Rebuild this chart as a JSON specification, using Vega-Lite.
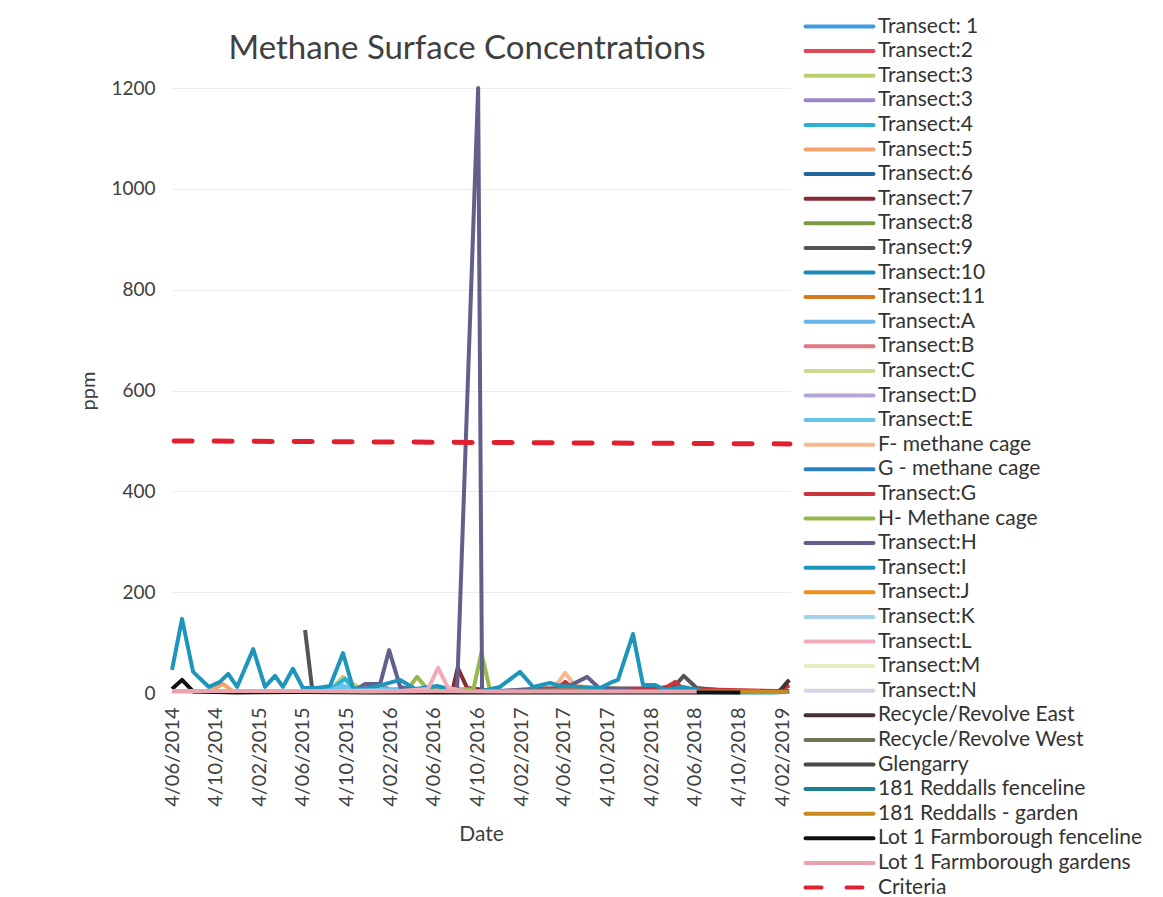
{
  "$schema": "https://vega.github.io/schema/vega-lite/v6.json",
  "autosize": "none",
  "width": 618,
  "height": 605,
  "padding": {"left": 172, "top": 88, "right": 373, "bottom": 204},
  "background": "white",
  "title": {"text": "Methane Surface Concentrations", "font": "Lato", "fontSize": 33, "fontWeight": "normal", "color": "#404040", "anchor": "middle", "dx": -14, "offset": 0, "dy": 50},
  "config": {"view": {"stroke": null}, "font": "Lato"},
  "datasets": {
    "criteria": [
      {"series": "Criteria", "date": "2014-06-10", "ppm": 500},
      {"series": "Criteria", "date": "2019-02-26", "ppm": 494}
    ],
    "obs": [
      {"series": "Transect: 1", "date": "2015-06-05", "ppm": 3},
      {"series": "Transect: 1", "date": "2015-09-25", "ppm": 6},
      {"series": "Transect: 1", "date": "2015-12-10", "ppm": 4},
      {"series": "Transect: 1", "date": "2016-03-03", "ppm": 3},
      {"series": "Transect: 1", "date": "2016-06-14", "ppm": 2},
      {"series": "Transect:2", "date": "2017-02-01", "ppm": 4},
      {"series": "Transect:2", "date": "2017-06-07", "ppm": 8},
      {"series": "Transect:2", "date": "2017-10-11", "ppm": 5},
      {"series": "Transect:2", "date": "2018-02-14", "ppm": 6},
      {"series": "Transect:2", "date": "2018-06-10", "ppm": 3},
      {"series": "Transect:3", "date": "2015-07-15", "ppm": 3},
      {"series": "Transect:3", "date": "2015-08-20", "ppm": 5},
      {"series": "Transect:3", "date": "2015-09-25", "ppm": 32},
      {"series": "Transect:3", "date": "2015-10-23", "ppm": 18},
      {"series": "Transect:3", "date": "2015-11-26", "ppm": 4},
      {"series": "Transect:3", "date": "2016-02-01", "ppm": 3},
      {"series": "Transect:3 ", "date": "2015-10-23", "ppm": 4},
      {"series": "Transect:3 ", "date": "2015-11-26", "ppm": 12},
      {"series": "Transect:3 ", "date": "2016-01-07", "ppm": 16},
      {"series": "Transect:3 ", "date": "2016-02-01", "ppm": 8},
      {"series": "Transect:3 ", "date": "2016-03-03", "ppm": 3},
      {"series": "Transect:4", "date": "2015-08-20", "ppm": 6},
      {"series": "Transect:4", "date": "2015-10-01", "ppm": 28},
      {"series": "Transect:4", "date": "2015-10-23", "ppm": 8},
      {"series": "Transect:4", "date": "2016-01-07", "ppm": 4},
      {"series": "Transect:4", "date": "2016-04-14", "ppm": 3},
      {"series": "Transect:5", "date": "2014-09-15", "ppm": 3},
      {"series": "Transect:5", "date": "2014-10-24", "ppm": 18},
      {"series": "Transect:5", "date": "2014-11-20", "ppm": 4},
      {"series": "Transect:5", "date": "2015-03-19", "ppm": 3},
      {"series": "Transect:5", "date": "2015-06-05", "ppm": 2},
      {"series": "Transect:6", "date": "2016-06-14", "ppm": 3},
      {"series": "Transect:6", "date": "2016-12-07", "ppm": 4},
      {"series": "Transect:6", "date": "2017-06-07", "ppm": 3},
      {"series": "Transect:6", "date": "2017-12-14", "ppm": 5},
      {"series": "Transect:6", "date": "2018-06-10", "ppm": 2},
      {"series": "Transect:7", "date": "2016-06-14", "ppm": 3},
      {"series": "Transect:7", "date": "2016-07-27", "ppm": 4},
      {"series": "Transect:7", "date": "2016-08-11", "ppm": 50},
      {"series": "Transect:7", "date": "2016-09-06", "ppm": 10},
      {"series": "Transect:7", "date": "2016-12-07", "ppm": 3},
      {"series": "Transect:7", "date": "2017-06-07", "ppm": 4},
      {"series": "Transect:8", "date": "2018-06-10", "ppm": 2},
      {"series": "Transect:8", "date": "2018-09-12", "ppm": 3},
      {"series": "Transect:8", "date": "2018-12-05", "ppm": 2},
      {"series": "Transect:8", "date": "2019-02-21", "ppm": 4},
      {"series": "Transect:9", "date": "2015-06-11", "ppm": 125},
      {"series": "Transect:9", "date": "2015-07-01", "ppm": 8},
      {"series": "Transect:9", "date": "2015-10-23", "ppm": 4},
      {"series": "Transect:9", "date": "2016-03-03", "ppm": 5},
      {"series": "Transect:9", "date": "2016-08-09", "ppm": 3},
      {"series": "Transect:9", "date": "2017-02-01", "ppm": 4},
      {"series": "Transect:9", "date": "2017-08-08", "ppm": 10},
      {"series": "Transect:9", "date": "2018-02-14", "ppm": 8},
      {"series": "Transect:9", "date": "2018-04-11", "ppm": 15},
      {"series": "Transect:9", "date": "2018-05-05", "ppm": 34},
      {"series": "Transect:9", "date": "2018-06-10", "ppm": 10},
      {"series": "Transect:9", "date": "2018-10-10", "ppm": 2},
      {"series": "Transect:9", "date": "2019-02-21", "ppm": 3},
      {"series": "Transect:10", "date": "2018-06-10", "ppm": 3},
      {"series": "Transect:10", "date": "2018-09-12", "ppm": 2},
      {"series": "Transect:10", "date": "2018-12-05", "ppm": 2},
      {"series": "Transect:10", "date": "2019-02-21", "ppm": 3},
      {"series": "Transect:11", "date": "2016-01-07", "ppm": 3},
      {"series": "Transect:11", "date": "2016-02-01", "ppm": 4},
      {"series": "Transect:11", "date": "2017-07-19", "ppm": 3},
      {"series": "Transect:11", "date": "2018-02-14", "ppm": 2},
      {"series": "Transect:11", "date": "2018-07-09", "ppm": 3},
      {"series": "Transect:11", "date": "2019-01-02", "ppm": 2},
      {"series": "Transect:A", "date": "2015-06-05", "ppm": 4},
      {"series": "Transect:A", "date": "2015-09-25", "ppm": 10},
      {"series": "Transect:A", "date": "2016-01-07", "ppm": 5},
      {"series": "Transect:A", "date": "2016-06-14", "ppm": 3},
      {"series": "Transect:B", "date": "2015-06-05", "ppm": 2},
      {"series": "Transect:B", "date": "2015-12-10", "ppm": 5},
      {"series": "Transect:B", "date": "2016-06-14", "ppm": 4},
      {"series": "Transect:B", "date": "2016-12-07", "ppm": 3},
      {"series": "Transect:C", "date": "2015-06-05", "ppm": 3},
      {"series": "Transect:C", "date": "2015-12-10", "ppm": 4},
      {"series": "Transect:C", "date": "2016-06-14", "ppm": 2},
      {"series": "Transect:D", "date": "2015-06-05", "ppm": 2},
      {"series": "Transect:D", "date": "2015-12-10", "ppm": 6},
      {"series": "Transect:D", "date": "2016-06-14", "ppm": 3},
      {"series": "Transect:E", "date": "2015-08-20", "ppm": 4},
      {"series": "Transect:E", "date": "2015-09-25", "ppm": 15},
      {"series": "Transect:E", "date": "2015-10-23", "ppm": 5},
      {"series": "Transect:E", "date": "2016-03-03", "ppm": 8},
      {"series": "Transect:E", "date": "2016-06-14", "ppm": 3},
      {"series": "F- methane cage", "date": "2016-12-07", "ppm": 3},
      {"series": "F- methane cage", "date": "2017-05-10", "ppm": 12},
      {"series": "F- methane cage", "date": "2017-06-07", "ppm": 40},
      {"series": "F- methane cage", "date": "2017-07-05", "ppm": 15},
      {"series": "F- methane cage", "date": "2017-10-11", "ppm": 4},
      {"series": "G - methane cage", "date": "2016-12-07", "ppm": 2},
      {"series": "G - methane cage", "date": "2017-06-07", "ppm": 5},
      {"series": "G - methane cage", "date": "2017-12-14", "ppm": 3},
      {"series": "G - methane cage", "date": "2018-06-10", "ppm": 2},
      {"series": "Transect:G", "date": "2017-05-10", "ppm": 5},
      {"series": "Transect:G", "date": "2017-06-07", "ppm": 22},
      {"series": "Transect:G", "date": "2017-07-05", "ppm": 6},
      {"series": "Transect:G", "date": "2018-03-14", "ppm": 10},
      {"series": "Transect:G", "date": "2018-04-11", "ppm": 22},
      {"series": "Transect:G", "date": "2018-05-03", "ppm": 8},
      {"series": "Transect:G", "date": "2019-01-25", "ppm": 4},
      {"series": "Transect:G", "date": "2019-02-24", "ppm": 15},
      {"series": "H- Methane cage", "date": "2016-03-25", "ppm": 8},
      {"series": "H- Methane cage", "date": "2016-04-19", "ppm": 32},
      {"series": "H- Methane cage", "date": "2016-05-20", "ppm": 6},
      {"series": "H- Methane cage", "date": "2016-09-24", "ppm": 8},
      {"series": "H- Methane cage", "date": "2016-10-16", "ppm": 80},
      {"series": "H- Methane cage", "date": "2016-11-10", "ppm": 3},
      {"series": "H- Methane cage", "date": "2017-03-10", "ppm": 4},
      {"series": "Transect:H", "date": "2015-10-23", "ppm": 3},
      {"series": "Transect:H", "date": "2015-11-26", "ppm": 18},
      {"series": "Transect:H", "date": "2016-01-07", "ppm": 18},
      {"series": "Transect:H", "date": "2016-02-01", "ppm": 85},
      {"series": "Transect:H", "date": "2016-03-03", "ppm": 12},
      {"series": "Transect:H", "date": "2016-04-14", "ppm": 6},
      {"series": "Transect:H", "date": "2016-06-14", "ppm": 4},
      {"series": "Transect:H", "date": "2016-08-09", "ppm": 3},
      {"series": "Transect:H", "date": "2016-10-07", "ppm": 1200},
      {"series": "Transect:H", "date": "2016-10-18", "ppm": 2},
      {"series": "Transect:H", "date": "2016-12-07", "ppm": 4},
      {"series": "Transect:H", "date": "2017-03-10", "ppm": 8},
      {"series": "Transect:H", "date": "2017-06-07", "ppm": 10},
      {"series": "Transect:H", "date": "2017-08-08", "ppm": 32},
      {"series": "Transect:H", "date": "2017-09-13", "ppm": 8},
      {"series": "Transect:H", "date": "2017-12-14", "ppm": 5},
      {"series": "Transect:H", "date": "2018-03-14", "ppm": 3},
      {"series": "Transect:I", "date": "2014-06-04", "ppm": 46},
      {"series": "Transect:I", "date": "2014-07-02", "ppm": 147},
      {"series": "Transect:I", "date": "2014-08-02", "ppm": 42},
      {"series": "Transect:I", "date": "2014-09-15", "ppm": 12},
      {"series": "Transect:I", "date": "2014-10-16", "ppm": 22},
      {"series": "Transect:I", "date": "2014-11-08", "ppm": 38},
      {"series": "Transect:I", "date": "2014-12-03", "ppm": 12},
      {"series": "Transect:I", "date": "2015-01-17", "ppm": 87},
      {"series": "Transect:I", "date": "2015-02-19", "ppm": 12},
      {"series": "Transect:I", "date": "2015-03-19", "ppm": 34},
      {"series": "Transect:I", "date": "2015-04-10", "ppm": 12},
      {"series": "Transect:I", "date": "2015-05-08", "ppm": 48},
      {"series": "Transect:I", "date": "2015-06-05", "ppm": 10},
      {"series": "Transect:I", "date": "2015-07-15", "ppm": 10},
      {"series": "Transect:I", "date": "2015-08-20", "ppm": 14},
      {"series": "Transect:I", "date": "2015-09-25", "ppm": 79},
      {"series": "Transect:I", "date": "2015-10-23", "ppm": 10},
      {"series": "Transect:I", "date": "2015-11-26", "ppm": 8},
      {"series": "Transect:I", "date": "2016-01-07", "ppm": 15},
      {"series": "Transect:I", "date": "2016-03-03", "ppm": 26},
      {"series": "Transect:I", "date": "2016-04-14", "ppm": 8},
      {"series": "Transect:I", "date": "2016-06-14", "ppm": 14},
      {"series": "Transect:I", "date": "2016-08-04", "ppm": 5},
      {"series": "Transect:I", "date": "2016-10-12", "ppm": 3},
      {"series": "Transect:I", "date": "2016-12-07", "ppm": 12},
      {"series": "Transect:I", "date": "2017-02-01", "ppm": 42},
      {"series": "Transect:I", "date": "2017-03-10", "ppm": 12},
      {"series": "Transect:I", "date": "2017-04-26", "ppm": 20},
      {"series": "Transect:I", "date": "2017-05-24", "ppm": 14},
      {"series": "Transect:I", "date": "2017-07-19", "ppm": 12},
      {"series": "Transect:I", "date": "2017-09-13", "ppm": 10},
      {"series": "Transect:I", "date": "2017-10-11", "ppm": 20},
      {"series": "Transect:I", "date": "2017-11-02", "ppm": 26},
      {"series": "Transect:I", "date": "2017-12-14", "ppm": 117},
      {"series": "Transect:I", "date": "2018-01-11", "ppm": 16},
      {"series": "Transect:I", "date": "2018-02-14", "ppm": 16},
      {"series": "Transect:I", "date": "2018-03-14", "ppm": 6},
      {"series": "Transect:I", "date": "2018-05-03", "ppm": 12},
      {"series": "Transect:I", "date": "2018-07-09", "ppm": 2},
      {"series": "Transect:I", "date": "2018-10-10", "ppm": 1},
      {"series": "Transect:I", "date": "2019-01-02", "ppm": 1},
      {"series": "Transect:I", "date": "2019-02-21", "ppm": 2},
      {"series": "Transect:J", "date": "2016-01-07", "ppm": 3},
      {"series": "Transect:J", "date": "2016-06-14", "ppm": 2},
      {"series": "Transect:J", "date": "2017-06-07", "ppm": 5},
      {"series": "Transect:J", "date": "2017-12-14", "ppm": 3},
      {"series": "Transect:J", "date": "2018-06-10", "ppm": 2},
      {"series": "Transect:J", "date": "2018-12-05", "ppm": 3},
      {"series": "Transect:K", "date": "2015-06-05", "ppm": 3},
      {"series": "Transect:K", "date": "2015-12-10", "ppm": 5},
      {"series": "Transect:K", "date": "2016-06-14", "ppm": 2},
      {"series": "Transect:L", "date": "2016-03-03", "ppm": 4},
      {"series": "Transect:L", "date": "2016-05-20", "ppm": 8},
      {"series": "Transect:L", "date": "2016-06-17", "ppm": 50},
      {"series": "Transect:L", "date": "2016-07-15", "ppm": 10},
      {"series": "Transect:L", "date": "2016-09-06", "ppm": 3},
      {"series": "Transect:M", "date": "2015-06-05", "ppm": 2},
      {"series": "Transect:M", "date": "2015-12-10", "ppm": 3},
      {"series": "Transect:M", "date": "2016-06-14", "ppm": 2},
      {"series": "Transect:N", "date": "2015-06-05", "ppm": 2},
      {"series": "Transect:N", "date": "2015-12-10", "ppm": 2},
      {"series": "Transect:N", "date": "2016-06-14", "ppm": 3},
      {"series": "Recycle/Revolve East", "date": "2018-06-10", "ppm": 2},
      {"series": "Recycle/Revolve East", "date": "2018-12-05", "ppm": 2},
      {"series": "Recycle/Revolve East", "date": "2019-01-25", "ppm": 2},
      {"series": "Recycle/Revolve East", "date": "2019-02-24", "ppm": 26},
      {"series": "Recycle/Revolve West", "date": "2018-10-10", "ppm": 3},
      {"series": "Recycle/Revolve West", "date": "2018-12-05", "ppm": 2},
      {"series": "Recycle/Revolve West", "date": "2019-02-24", "ppm": 4},
      {"series": "Glengarry", "date": "2016-06-14", "ppm": 2},
      {"series": "Glengarry", "date": "2017-06-07", "ppm": 3},
      {"series": "Glengarry", "date": "2018-06-10", "ppm": 2},
      {"series": "181 Reddalls fenceline", "date": "2018-06-10", "ppm": 3},
      {"series": "181 Reddalls fenceline", "date": "2018-09-12", "ppm": 2},
      {"series": "181 Reddalls fenceline", "date": "2018-12-05", "ppm": 2},
      {"series": "181 Reddalls fenceline", "date": "2019-02-21", "ppm": 3},
      {"series": "181 Reddalls  - garden", "date": "2018-04-11", "ppm": 2},
      {"series": "181 Reddalls  - garden", "date": "2018-08-10", "ppm": 3},
      {"series": "181 Reddalls  - garden", "date": "2018-12-05", "ppm": 2},
      {"series": "181 Reddalls  - garden", "date": "2019-02-21", "ppm": 2},
      {"series": "Lot 1 Farmborough fenceline", "date": "2014-06-04", "ppm": 8},
      {"series": "Lot 1 Farmborough fenceline", "date": "2014-07-02", "ppm": 26},
      {"series": "Lot 1 Farmborough fenceline", "date": "2014-08-02", "ppm": 3},
      {"series": "Lot 1 Farmborough fenceline", "date": "2014-12-03", "ppm": 1},
      {"series": "Lot 1 Farmborough fenceline", "date": "2015-06-05", "ppm": 2},
      {"series": "Lot 1 Farmborough fenceline", "date": "2015-12-10", "ppm": 1},
      {"series": "Lot 1 Farmborough fenceline", "date": "2016-06-14", "ppm": 1},
      {"series": "Lot 1 Farmborough fenceline", "date": "2016-12-07", "ppm": 1},
      {"series": "Lot 1 Farmborough fenceline", "date": "2017-06-07", "ppm": 1},
      {"series": "Lot 1 Farmborough fenceline", "date": "2017-12-14", "ppm": 1},
      {"series": "Lot 1 Farmborough fenceline", "date": "2018-06-10", "ppm": 1},
      {"series": "Lot 1 Farmborough fenceline", "date": "2018-10-10", "ppm": 1},
      {"series": "Lot 1 Farmborough gardens", "date": "2014-06-04", "ppm": 4},
      {"series": "Lot 1 Farmborough gardens", "date": "2014-12-03", "ppm": 4},
      {"series": "Lot 1 Farmborough gardens", "date": "2015-06-05", "ppm": 4},
      {"series": "Lot 1 Farmborough gardens", "date": "2015-12-10", "ppm": 3},
      {"series": "Lot 1 Farmborough gardens", "date": "2016-06-14", "ppm": 4},
      {"series": "Lot 1 Farmborough gardens", "date": "2016-12-07", "ppm": 3},
      {"series": "Lot 1 Farmborough gardens", "date": "2017-06-07", "ppm": 3},
      {"series": "Lot 1 Farmborough gardens", "date": "2017-12-14", "ppm": 3},
      {"series": "Lot 1 Farmborough gardens", "date": "2018-06-10", "ppm": 3}
    ]
  },
  "encoding": {
    "x": {
      "field": "date", "type": "temporal",
      "scale": {"type": "utc", "domain": [{"year": 2014, "month": 6, "date": 4, "utc": true}, {"year": 2019, "month": 2, "date": 26, "utc": true}]},
      "axis": {
        "title": "Date", "titleFont": "Lato", "titleFontSize": 21, "titleFontWeight": "normal", "titleColor": "#404040", "titlePadding": 17,
        "format": "%-d/%m/%Y", "labelAngle": -90, "labelAlign": "right", "labelBaseline": "middle",
        "labelFont": "Lato", "labelFontSize": 20, "labelColor": "#404040", "labelPadding": 14, "labelOverlap": false, "labelFlush": false,
        "ticks": false, "grid": false, "domainColor": "#d9d9d9",
        "values": [
          {"year": 2014, "month": 6, "date": 4, "utc": true}, {"year": 2014, "month": 10, "date": 4, "utc": true},
          {"year": 2015, "month": 2, "date": 4, "utc": true}, {"year": 2015, "month": 6, "date": 4, "utc": true}, {"year": 2015, "month": 10, "date": 4, "utc": true},
          {"year": 2016, "month": 2, "date": 4, "utc": true}, {"year": 2016, "month": 6, "date": 4, "utc": true}, {"year": 2016, "month": 10, "date": 4, "utc": true},
          {"year": 2017, "month": 2, "date": 4, "utc": true}, {"year": 2017, "month": 6, "date": 4, "utc": true}, {"year": 2017, "month": 10, "date": 4, "utc": true},
          {"year": 2018, "month": 2, "date": 4, "utc": true}, {"year": 2018, "month": 6, "date": 4, "utc": true}, {"year": 2018, "month": 10, "date": 4, "utc": true},
          {"year": 2019, "month": 2, "date": 4, "utc": true}
        ]
      }
    },
    "y": {
      "field": "ppm", "type": "quantitative",
      "scale": {"domain": [0, 1200], "nice": false},
      "axis": {
        "title": "ppm", "titleFont": "Lato", "titleFontSize": 20, "titleFontWeight": "normal", "titleColor": "#404040", "titlePadding": 12,
        "values": [0, 200, 400, 600, 800, 1000, 1200], "format": "d",
        "labelFont": "Lato", "labelFontSize": 19, "labelColor": "#404040", "labelPadding": 17,
        "ticks": false, "domain": false, "grid": true, "gridColor": "#ececec", "gridWidth": 1
      }
    },
    "color": {
      "field": "series", "type": "nominal",
      "scale": {
        "domain": ["Transect: 1", "Transect:2", "Transect:3", "Transect:3 ", "Transect:4", "Transect:5", "Transect:6", "Transect:7", "Transect:8", "Transect:9", "Transect:10", "Transect:11", "Transect:A", "Transect:B", "Transect:C", "Transect:D", "Transect:E", "F- methane cage", "G - methane cage", "Transect:G", "H- Methane cage", "Transect:H", "Transect:I", "Transect:J", "Transect:K", "Transect:L", "Transect:M", "Transect:N", "Recycle/Revolve East", "Recycle/Revolve West", "Glengarry", "181 Reddalls fenceline", "181 Reddalls  - garden", "Lot 1 Farmborough fenceline", "Lot 1 Farmborough gardens", "Criteria"],
        "range": ["#3d9be0", "#de4a5a", "#b9d06c", "#9b87c6", "#2bb2d6", "#f2a36e", "#21689f", "#862c33", "#7e9a43", "#555555", "#1d88b8", "#d7791f", "#6ab4ee", "#e27881", "#c9dc8e", "#b3a6d4", "#66c6ea", "#f6b88c", "#2a80c4", "#c8333c", "#98b950", "#615f8c", "#1e96bc", "#f08e1e", "#a6d2f0", "#f2abbb", "#e6eec6", "#d5d5e6", "#463236", "#6e7453", "#484848", "#18808e", "#c98a22", "#111111", "#e9a3ad", "#e0202e"]
      },
      "legend": {
        "title": null, "orient": "none", "legendX": 657, "legendY": -72, "padding": 0,
        "symbolType": "M-4,0H4", "symbolSize": 289, "symbolStrokeWidth": 4, "symbolOffset": 0,
        "labelFont": "Lato", "labelFontSize": 21, "labelColor": "#333333", "labelOffset": 28, "labelLimit": 400,
        "rowPadding": 2.6, "symbolLimit": 0,
        "encode": {"symbols": {"update": {"strokeCap": {"value": "round"}, "strokeDash": {"signal": "datum.value === 'Criteria' ? [16, 25] : [1, 0]"}}}}
      }
    }
  },
  "layer": [
    {"data": {"name": "obs"}, "mark": {"type": "line", "strokeWidth": 4, "strokeJoin": "round"}},
    {"data": {"name": "criteria"}, "mark": {"type": "line", "strokeWidth": 5, "strokeDash": [18, 22], "strokeCap": "round"}}
  ]
}
